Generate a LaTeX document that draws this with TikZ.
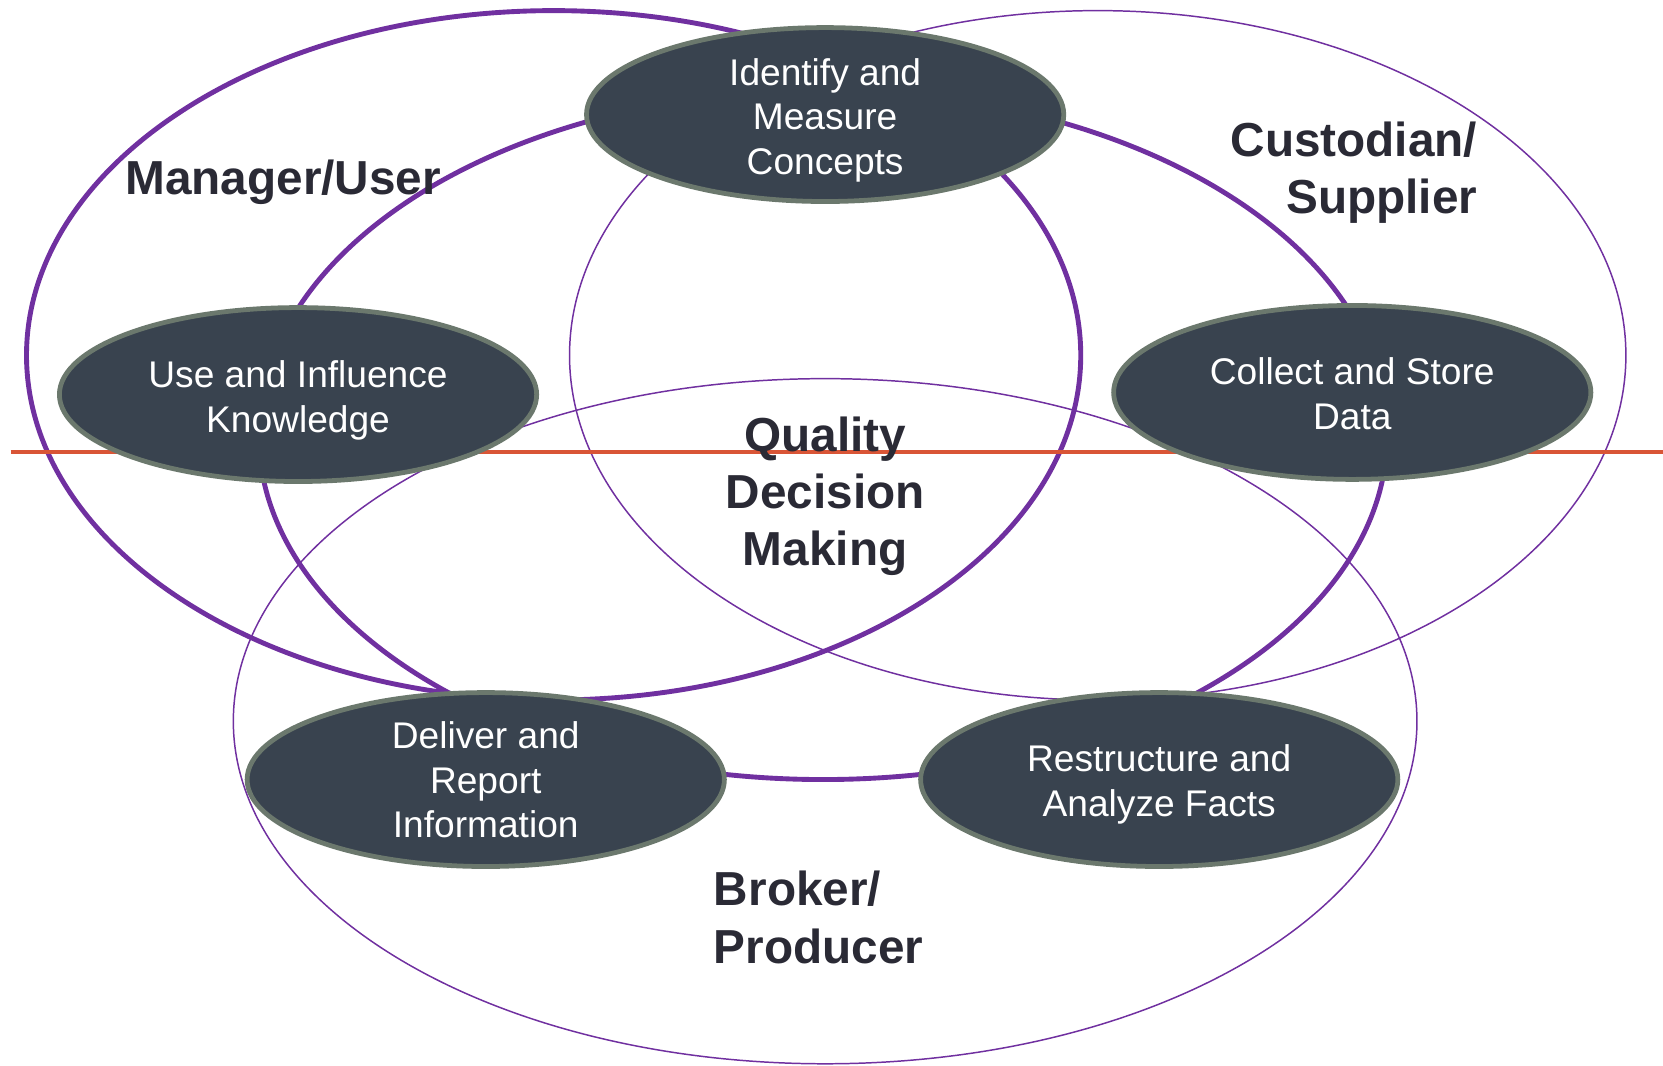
\documentclass[tikz,border=0pt]{standalone}
\usepackage{fontspec}
\setmainfont{Liberation Sans}
\usetikzlibrary{shapes.geometric}
\definecolor{ringpurple}{HTML}{7030A0}
\definecolor{nodefill}{HTML}{39434F}
\definecolor{nodeborder}{HTML}{6B786D}
\definecolor{labeldark}{HTML}{2A2A35}
\definecolor{redline}{HTML}{D95536}
\begin{document}
\begin{tikzpicture}[x=1pt,y=-1pt,
  thickring/.style={draw=ringpurple,line width=4.6pt},
  thinring/.style={draw=ringpurple,line width=1.4pt},
  procbox/.style={ellipse,fill=nodefill,draw=nodeborder,line width=4.5pt,minimum width=450pt,minimum height=164pt,inner sep=0pt},
  proctext/.style={text=white,align=center,font=\fontsize{35}{42}\selectfont,inner sep=0pt},
  rolelabel/.style={text=labeldark,font=\fontsize{45}{54}\selectfont\bfseries,inner sep=0pt}]
\useasboundingbox (0,0) rectangle (1568,1005);
% role ellipses
\draw[thickring] (522,335) ellipse [x radius=497pt, y radius=325pt];
\draw[thinring] (1035,335) ellipse [x radius=498pt, y radius=325pt];
\draw[thinring] (778,680) ellipse [x radius=558pt, y radius=323pt];
% process cycle
\draw[thickring] (776,410) ellipse [x radius=532pt, y radius=325pt];
% red line
\coordinate (rl) at (10,426.5);
\coordinate (rr) at (1568,426.5);
\draw[redline,line width=3.6pt] (rl) -- (rr);
% process nodes
\node[procbox] (idf) at (778,108) {};
\node[procbox] (use) at (281,372) {};
\node[procbox] (col) at (1275,370) {};
\node[procbox] (del) at (458,735) {};
\node[procbox] (res) at (1093,735) {};
\node[proctext] (idft) at (778,113.5) {Identify and\\Measure\\Concepts};
\node[proctext] (uset) at (281,377.5) {Use and Influence\\Knowledge};
\node[proctext] (colt) at (1275,371) {Collect and Store\\Data};
\node[proctext] (delt) at (458,735.5) {Deliver and\\Report\\Information};
\node[proctext] (rest) at (1093,739.5) {Restructure and\\Analyze Facts};
% role labels
\node[rolelabel] (mgr) at (267,172) {Manager/User};
\node[rolelabel,align=right,anchor=east] (cus) at (1393,163) {Custodian/\\Supplier};
\node[rolelabel,align=center] (qdm) at (778,468) {Quality\\Decision\\Making};
\node[rolelabel,align=left,anchor=west] (bro) at (673,865) {Broker/\\Producer};
\end{tikzpicture}
\end{document}
